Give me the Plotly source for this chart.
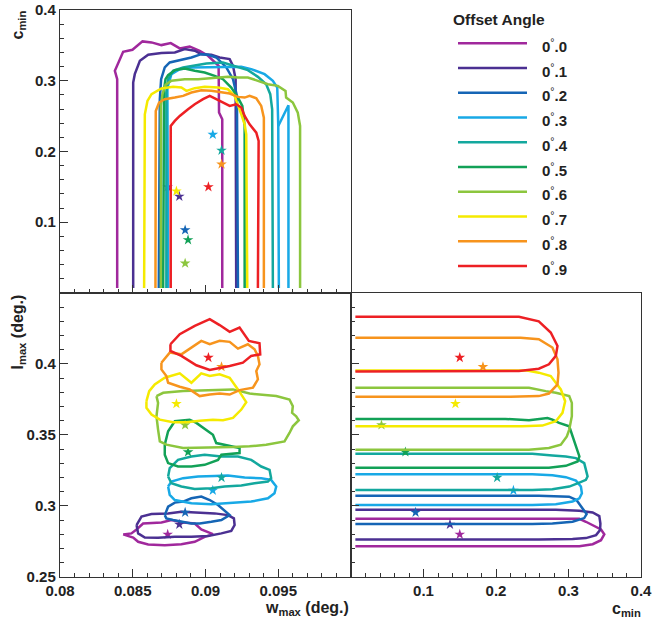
import plotly.graph_objects as go

# ---------------- data ----------------
angles = ["0.0", "0.1", "0.2", "0.3", "0.4", "0.5", "0.6", "0.7", "0.8", "0.9"]
colors = ["#a0289c", "#4b3092", "#1565b5", "#18a9e6", "#13a89e",
          "#12a157", "#8cc63e", "#f5ea00", "#f7941d", "#ed2024"]

best_w = [0.0874, 0.0882, 0.0886, 0.0905, 0.0911, 0.0888, 0.0886, 0.0880, 0.0911, 0.0902]
best_c = [0.150, 0.1365, 0.089, 0.224, 0.2016, 0.075, 0.042, 0.144, 0.182, 0.150]
best_l = [0.280, 0.287, 0.2955, 0.311, 0.320, 0.338, 0.357, 0.372, 0.398, 0.4045]

# contours in the w_max - c_min plane (top-left panel)
top_w = [
    [0.08393, 0.08393, 0.08377, 0.08434, 0.08498, 0.08567, 0.08629, 0.08697, 0.08761, 0.08823, 0.08891, 0.0896, 0.09017, 0.09063, 0.0909, 0.09093, 0.09115, 0.09115],
    [0.08503, 0.08503, 0.08514, 0.08549, 0.08606, 0.08697, 0.08789, 0.08857, 0.08926, 0.08971, 0.0904, 0.09097, 0.09166, 0.09189, 0.09207, 0.09211],
    [0.08679, 0.08686, 0.08695, 0.0872, 0.08754, 0.08834, 0.08903, 0.08971, 0.09017, 0.09074, 0.09143, 0.09189, 0.09216, 0.09223],
    [0.08743, 0.08738, 0.08766, 0.08823, 0.08903, 0.09063, 0.09166, 0.09246, 0.09314, 0.09406, 0.09463, 0.09493, 0.0950, 0.09504, None, 0.0950, 0.0957, 0.0957],
    [0.08731, 0.08731, 0.08743, 0.08777, 0.08846, 0.08914, 0.09006, 0.0912, 0.09223, 0.09291, 0.0936, 0.09417, 0.09445, 0.09458, 0.09463],
    [0.08709, 0.08715, 0.08725, 0.08743, 0.08789, 0.08857, 0.08926, 0.08994, 0.09063, 0.0912, 0.09177, 0.09223, 0.09253, 0.09269, 0.09269],
    [0.08693, 0.08693, 0.08704, 0.08725, 0.08766, 0.08857, 0.08949, 0.09063, 0.09154, 0.09223, 0.09291, 0.0936, 0.09429, 0.09497, 0.0955, 0.09554, 0.096, 0.09634, 0.0965, 0.0965],
    [0.08578, 0.08583, 0.08601, 0.08629, 0.08697, 0.08777, 0.08834, 0.08869, 0.08926, 0.08994, 0.09086, 0.09154, 0.092, 0.09223, 0.09246, 0.09269, 0.0928, 0.09287],
    [0.08656, 0.08658, 0.08681, 0.0872, 0.08789, 0.08846, 0.08903, 0.08971, 0.0904, 0.09097, 0.09166, 0.09223, 0.09269, 0.09303, 0.09349, 0.09383, 0.09401, 0.09401],
    [0.08761, 0.08761, 0.08789, 0.08823, 0.0888, 0.08926, 0.08983, 0.09029, 0.09074, 0.0912, 0.09166, 0.09211, 0.09246, 0.09269, 0.09303, 0.09349, 0.09365, 0.0936],
]
top_c = [
    [0.007, 0.3022, 0.3140, 0.3410, 0.3438, 0.3556, 0.3542, 0.3504, 0.3532, 0.3457, 0.3485, 0.3424, 0.3353, 0.3268, 0.3211, 0.2550, 0.2455, 0.007],
    [0.007, 0.2975, 0.3093, 0.3282, 0.3367, 0.3391, 0.3400, 0.3447, 0.3424, 0.3376, 0.3367, 0.3329, 0.3306, 0.3211, 0.3022, 0.007],
    [0.007, 0.2739, 0.3022, 0.3188, 0.3258, 0.3291, 0.3329, 0.3376, 0.3367, 0.3329, 0.3188, 0.3022, 0.2786, 0.007],
    [0.007, 0.2904, 0.3093, 0.3164, 0.3188, 0.3188, 0.3188, 0.3197, 0.3164, 0.3093, 0.2999, 0.2904, 0.2361, 0.007, None, 0.2361, 0.2654, 0.007],
    [0.007, 0.2833, 0.3022, 0.3140, 0.3188, 0.3211, 0.3244, 0.3258, 0.3197, 0.3150, 0.3055, 0.2951, 0.2810, 0.2597, 0.007],
    [0.007, 0.2880, 0.3022, 0.3079, 0.3150, 0.3173, 0.3140, 0.3117, 0.3069, 0.3022, 0.2904, 0.2762, 0.2644, 0.2361, 0.007],
    [0.007, 0.2644, 0.2810, 0.2942, 0.2999, 0.3022, 0.3022, 0.3046, 0.3055, 0.3046, 0.3046, 0.2999, 0.2951, 0.2928, 0.2857, 0.2762, 0.2692, 0.2550, 0.2361, 0.007],
    [0.007, 0.2526, 0.2715, 0.2810, 0.2890, 0.2914, 0.2904, 0.2857, 0.2895, 0.2914, 0.2904, 0.2880, 0.2786, 0.2668, 0.2526, 0.2384, 0.2243, 0.007],
    [0.007, 0.2573, 0.2692, 0.2739, 0.2762, 0.2786, 0.2833, 0.2866, 0.2857, 0.2843, 0.2819, 0.2772, 0.2762, 0.2786, 0.2753, 0.2644, 0.2479, 0.007],
    [0.007, 0.2361, 0.2432, 0.2503, 0.2597, 0.2668, 0.2739, 0.2786, 0.2739, 0.2692, 0.2644, 0.2668, 0.2621, 0.2503, 0.2384, 0.2266, 0.2148, 0.007],
]

# contours in the w_max - l_max plane (bottom-left panel)
low_w = [
    [0.08434, 0.08491, 0.08526, 0.08571, 0.08697, 0.08766, 0.08846, 0.08926, 0.08971, 0.09051, 0.08994, 0.08926, 0.08834, 0.0872, 0.08606, 0.08537, 0.08503],
    [0.08526, 0.0856, 0.08629, 0.08743, 0.08834, 0.08949, 0.09063, 0.09154, 0.09195, 0.0920, 0.09177, 0.09109, 0.09017, 0.08903, 0.08789, 0.08674, 0.08583, 0.08537],
    [0.0872, 0.08743, 0.08789, 0.08846, 0.08903, 0.08971, 0.09029, 0.09086, 0.09166, 0.09109, 0.0904, 0.0896, 0.08903, 0.08834, 0.08777, 0.08731],
    [0.08743, 0.08766, 0.08846, 0.08949, 0.09063, 0.09154, 0.09269, 0.09383, 0.09451, 0.09486, 0.09474, 0.09429, 0.09314, 0.09177, 0.0904, 0.08903, 0.08789, 0.08754],
    [0.08743, 0.08754, 0.08811, 0.08903, 0.08994, 0.09109, 0.09223, 0.09314, 0.09383, 0.0944, 0.09451, 0.09429, 0.09337, 0.09246, 0.09131, 0.0904, 0.08926, 0.08834, 0.08766],
    [0.0872, 0.08743, 0.08789, 0.08891, 0.08937, 0.09006, 0.09051, 0.09074, 0.09131, 0.09234, 0.09234, 0.09109, 0.09086, 0.08994, 0.08903, 0.08811, 0.08743, 0.0872],
    [0.08663, 0.08709, 0.08846, 0.0896, 0.09074, 0.09189, 0.09303, 0.09417, 0.09486, 0.09577, 0.096, 0.09595, 0.09623, 0.09641, 0.096, 0.09577, 0.09543, 0.09417, 0.09303, 0.09189, 0.09074, 0.0896, 0.08846, 0.08731, 0.08686, 0.08674, 0.08663, 0.08674],
    [0.08594, 0.08613, 0.08651, 0.0872, 0.08823, 0.08903, 0.08971, 0.09029, 0.09097, 0.09166, 0.09223, 0.0928, 0.09246, 0.09189, 0.0912, 0.09051, 0.0896, 0.08869, 0.08777, 0.08686, 0.08629, 0.08594],
    [0.08697, 0.08754, 0.08834, 0.08903, 0.08971, 0.09029, 0.09097, 0.09166, 0.09223, 0.09291, 0.09337, 0.0936, 0.09371, 0.09349, 0.0936, 0.09326, 0.09234, 0.09166, 0.09097, 0.09029, 0.0896, 0.08891, 0.08823, 0.08743, 0.08731, 0.08697],
    [0.08759, 0.08823, 0.08926, 0.09029, 0.09097, 0.09166, 0.09234, 0.09298, 0.09371, 0.09376, 0.09314, 0.09257, 0.09166, 0.09029, 0.08937, 0.08834, 0.08759],
]
low_l = [
    [0.2800, 0.2807, 0.2835, 0.2877, 0.2884, 0.2901, 0.2884, 0.2877, 0.2835, 0.2802, 0.2783, 0.2748, 0.2731, 0.2724, 0.2729, 0.2748, 0.2778],
    [0.2866, 0.2925, 0.2943, 0.2948, 0.2960, 0.2953, 0.2948, 0.2936, 0.2913, 0.2866, 0.2825, 0.2807, 0.2788, 0.2783, 0.2783, 0.2776, 0.2778, 0.2807],
    [0.2936, 0.2995, 0.3024, 0.3031, 0.3054, 0.3066, 0.3042, 0.3007, 0.2936, 0.2901, 0.2889, 0.2877, 0.2877, 0.2889, 0.2901, 0.2913],
    [0.3137, 0.3172, 0.3196, 0.3208, 0.3212, 0.3215, 0.3200, 0.3196, 0.3184, 0.3137, 0.3090, 0.3054, 0.3031, 0.3019, 0.3012, 0.3019, 0.3042, 0.3078],
    [0.3208, 0.3267, 0.3325, 0.3349, 0.3361, 0.3349, 0.3349, 0.3325, 0.3278, 0.3255, 0.3196, 0.3172, 0.3160, 0.3144, 0.3137, 0.3125, 0.3120, 0.3137, 0.3160],
    [0.3432, 0.3526, 0.3597, 0.3608, 0.3585, 0.3538, 0.3502, 0.3443, 0.3432, 0.3408, 0.3373, 0.3361, 0.3325, 0.3290, 0.3278, 0.3278, 0.3302, 0.3361],
    [0.3774, 0.3797, 0.3809, 0.3814, 0.3816, 0.3821, 0.3792, 0.3778, 0.3774, 0.3750, 0.3703, 0.3656, 0.3632, 0.3604, 0.3561, 0.3514, 0.3455, 0.3432, 0.3420, 0.3415, 0.3413, 0.3408, 0.3408, 0.3432, 0.3455, 0.3538, 0.3632, 0.3726],
    [0.3738, 0.3809, 0.3856, 0.3903, 0.3934, 0.3868, 0.3934, 0.3915, 0.3927, 0.3903, 0.3821, 0.3731, 0.3679, 0.3620, 0.3604, 0.3608, 0.3601, 0.3590, 0.3590, 0.3608, 0.3644, 0.3691],
    [0.4009, 0.4080, 0.4068, 0.4116, 0.4163, 0.4139, 0.4163, 0.4156, 0.4108, 0.4139, 0.4104, 0.4057, 0.3998, 0.3950, 0.3892, 0.3833, 0.3816, 0.3785, 0.3792, 0.3785, 0.3774, 0.3821, 0.3840, 0.3868, 0.3915, 0.3962],
    [0.4139, 0.4210, 0.4269, 0.4316, 0.4274, 0.4226, 0.4257, 0.4163, 0.4146, 0.4068, 0.4057, 0.4009, 0.3986, 0.3958, 0.3991, 0.4057, 0.4092],
]

# contours in the c_min - l_max plane (bottom-right panel)
side_c = [
    [0.006, 0.3055, 0.315, 0.324, 0.3355, 0.3448, 0.3494, 0.3448, 0.3333, 0.315, 0.282, 0.006],
    [0.006, 0.2825, 0.315, 0.3333, 0.3425, 0.344, 0.3435, 0.338, 0.324, 0.3056, 0.259, 0.006],
    [0.006, 0.259, 0.3008, 0.311, 0.3194, 0.325, 0.3217, 0.3056, 0.2778, 0.25, 0.006],
    [0.006, 0.25, 0.2778, 0.2963, 0.3102, 0.3171, 0.3185, 0.315, 0.3056, 0.2825, 0.25, 0.006],
    [0.006, 0.25, 0.2778, 0.2963, 0.3102, 0.3217, 0.3263, 0.324, 0.315, 0.301, 0.2778, 0.25, 0.006],
    [0.006, 0.213, 0.2455, 0.2594, 0.271, 0.2778, 0.287, 0.301, 0.3056, 0.3102, 0.315, 0.3125, 0.2963, 0.273, 0.241, 0.006],
    [0.006, 0.2455, 0.2686, 0.2825, 0.301, 0.3046, 0.3046, 0.301, 0.2977, 0.2894, 0.273, 0.2455, 0.006],
    [0.006, 0.241, 0.259, 0.2755, 0.2894, 0.2954, 0.2917, 0.2825, 0.264, 0.236, 0.006],
    [0.006, 0.234, 0.259, 0.2778, 0.2848, 0.2862, 0.2848, 0.273, 0.259, 0.22, 0.006],
    [0.006, 0.2316, 0.259, 0.2755, 0.2848, 0.2825, 0.273, 0.259, 0.2316, 0.006],
]
side_l = [
    [0.2910, 0.2910, 0.2910, 0.2889, 0.2858, 0.2835, 0.2800, 0.2759, 0.2731, 0.2717, 0.2717, 0.2717],
    [0.2974, 0.2974, 0.2967, 0.2955, 0.2929, 0.2877, 0.2830, 0.2795, 0.2774, 0.2767, 0.2764, 0.2764],
    [0.3073, 0.3073, 0.3066, 0.3042, 0.2983, 0.2943, 0.2915, 0.2889, 0.2877, 0.2873, 0.2873],
    [0.3224, 0.3224, 0.3217, 0.3203, 0.3179, 0.3137, 0.3090, 0.3054, 0.3031, 0.3012, 0.3007, 0.3007],
    [0.3368, 0.3368, 0.3356, 0.3349, 0.3337, 0.3302, 0.3208, 0.3184, 0.3165, 0.3137, 0.3118, 0.3113, 0.3113],
    [0.3613, 0.3613, 0.3604, 0.3613, 0.3620, 0.3608, 0.3585, 0.3561, 0.3490, 0.3420, 0.3349, 0.3314, 0.3283, 0.3269, 0.3269, 0.3269],
    [0.3833, 0.3833, 0.3809, 0.3797, 0.3774, 0.3726, 0.3632, 0.3538, 0.3490, 0.3432, 0.3408, 0.3396, 0.3396],
    [0.3955, 0.3955, 0.3939, 0.3915, 0.3821, 0.3738, 0.3656, 0.3597, 0.3566, 0.3561, 0.3561],
    [0.4184, 0.4184, 0.4175, 0.4116, 0.4033, 0.3939, 0.3856, 0.3792, 0.3774, 0.3769, 0.3769],
    [0.4333, 0.4333, 0.4300, 0.4222, 0.4127, 0.4057, 0.3998, 0.3967, 0.3950, 0.3948],
]

# axis ticks
wmax_ticks = [0.08, 0.085, 0.09, 0.095, 0.1]
wmax_labels = ["0.08", "0.085", "0.09", "0.095", ""]
lmax_ticks = [0.25, 0.3, 0.35, 0.4, 0.45]
lmax_labels = ["0.25", "0.3", "0.35", "0.4", ""]
cmin_ticks = [0.0, 0.1, 0.2, 0.3, 0.4]
cmin_labels_x = ["", "0.1", "0.2", "0.3", "0.4"]
cmin_labels_y = ["", "0.1", "0.2", "0.3", "0.4"]

# ---------------- figure ----------------
FONT = "Liberation Sans, Arial, Helvetica, sans-serif"
TICKFONT = dict(family=FONT, size=15, color="#222222", weight="bold")
LW = 2.5

fig = go.Figure()

for i, col in enumerate(colors):
    # top-left: w_max vs c_min
    fig.add_trace(go.Scatter(x=top_w[i], y=top_c[i], mode="lines", xaxis="x2", yaxis="y2",
                             line=dict(color=col, width=LW), showlegend=False, hoverinfo="skip"))
    fig.add_trace(go.Scatter(x=[best_w[i]], y=[best_c[i]], mode="markers", xaxis="x2", yaxis="y2",
                             marker=dict(symbol="star", size=8, color=col, line=dict(width=0)),
                             showlegend=False))
    # bottom-left: w_max vs l_max (closed loop)
    fig.add_trace(go.Scatter(x=low_w[i] + low_w[i][:1], y=low_l[i] + low_l[i][:1], mode="lines",
                             xaxis="x", yaxis="y", line=dict(color=col, width=LW),
                             showlegend=False, hoverinfo="skip"))
    fig.add_trace(go.Scatter(x=[best_w[i]], y=[best_l[i]], mode="markers", xaxis="x", yaxis="y",
                             marker=dict(symbol="star", size=8, color=col, line=dict(width=0)),
                             showlegend=False))
    # bottom-right: c_min vs l_max
    fig.add_trace(go.Scatter(x=side_c[i], y=side_l[i], mode="lines", xaxis="x3", yaxis="y3",
                             line=dict(color=col, width=LW), showlegend=False, hoverinfo="skip"))
    fig.add_trace(go.Scatter(x=[best_c[i]], y=[best_l[i]], mode="markers", xaxis="x3", yaxis="y3",
                             marker=dict(symbol="star", size=8, color=col, line=dict(width=0)),
                             showlegend=False))


def axis(rng, vals, labels, minor_dtick, domain, anchor, show_labels=True):
    return dict(range=rng, domain=domain, anchor=anchor, tickmode="array", tickvals=vals,
                ticktext=labels, ticks="inside", ticklen=8, tickwidth=1, tickcolor="#333333",
                minor=dict(ticks="inside", ticklen=4, tickwidth=1, tickcolor="#333333",
                           tick0=rng[0], dtick=minor_dtick, showgrid=False),
                showgrid=False, zeroline=False, showline=True, linecolor="#333333",
                linewidth=1.4, mirror=True, showticklabels=show_labels, tickfont=TICKFONT,
                automargin=False, ticklabeloverflow="allow")


D1 = [0.0, 0.5009]
D2 = [0.5009, 1.0]
fig.update_layout(
    width=652, height=622,
    margin=dict(l=60, r=11, t=10, b=45, autoexpand=False),
    paper_bgcolor="white", plot_bgcolor="white",
    xaxis=axis([0.08, 0.1], wmax_ticks, wmax_labels, 0.001, D1, "y"),
    yaxis=axis([0.25, 0.45], lmax_ticks, lmax_labels, 0.01, D1, "x"),
    xaxis2=axis([0.08, 0.1], wmax_ticks, wmax_labels, 0.001, D1, "y2", show_labels=False),
    yaxis2=axis([0.0, 0.4], cmin_ticks, cmin_labels_y, 0.02, D2, "x2"),
    xaxis3=axis([0.0, 0.4], cmin_ticks, cmin_labels_x, 0.02, D2, "y3"),
    yaxis3=axis([0.25, 0.45], lmax_ticks, lmax_labels, 0.01, D1, "x3", show_labels=False),
    showlegend=False,
)

# plot-area pixel helpers (plot area: x 60..641, y 10..577)
def px_x(p):
    return (p - 60) / 581.0


def px_y(p):
    return (577 - p) / 567.0


TITLEFONT = dict(family=FONT, size=16, color="#222222", weight="bold")
annotations = [
    dict(text="w<sub>max</sub> (deg.)", x=px_x(351), y=px_y(608), xref="paper", yref="paper",
         xanchor="right", yanchor="middle", showarrow=False, font=TITLEFONT),
    dict(text="c<sub>min</sub>", x=px_x(643), y=px_y(609), xref="paper", yref="paper",
         xanchor="right", yanchor="middle", showarrow=False, font=TITLEFONT),
    dict(text="l<sub>max</sub> (deg.)", x=px_x(18), y=px_y(293), xref="paper", yref="paper",
         xanchor="center", yanchor="top", textangle=-90, showarrow=False, font=TITLEFONT),
    dict(text="c<sub>min</sub>", x=px_x(18), y=px_y(9), xref="paper", yref="paper",
         xanchor="center", yanchor="top", textangle=-90, showarrow=False, font=TITLEFONT),
    dict(text="Offset Angle", x=px_x(499), y=px_y(19), xref="paper", yref="paper",
         xanchor="center", yanchor="middle", showarrow=False,
         font=dict(family=FONT, size=15.5, color="#222222", weight="bold")),
]

shapes = []
for i, (a, col) in enumerate(zip(angles, colors)):
    yc = 43.3 + 24.75 * i
    shapes.append(dict(type="line", xref="paper", yref="paper",
                       x0=px_x(458), x1=px_x(527), y0=px_y(yc), y1=px_y(yc),
                       line=dict(color=col, width=2.6)))
    whole, frac = a.split(".")
    annotations.append(dict(text=f"<b>{whole}</b><sup>°</sup><b>.{frac}</b>",
                            x=px_x(540), y=px_y(yc + 2), xref="paper", yref="paper",
                            xanchor="left", yanchor="middle", showarrow=False,
                            font=dict(family=FONT, size=15, color="#222222")))

fig.update_layout(annotations=annotations, shapes=shapes)
fig.write_html("out.html", config={"displayModeBar": False},
               post_script="document.body.style.margin='0';document.body.style.padding='0';")
